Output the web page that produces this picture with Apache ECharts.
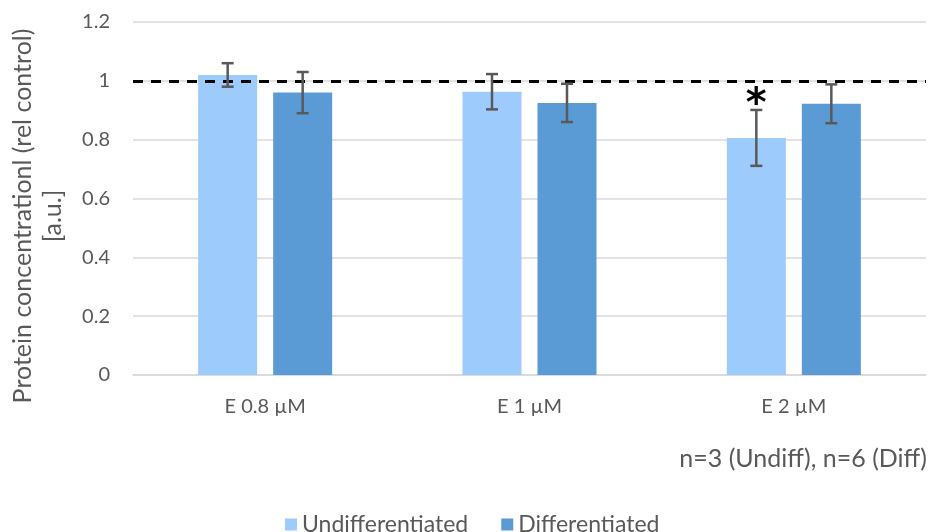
<!DOCTYPE html>
<html>
<head>
<meta charset="utf-8">
<script src="https://cdn.jsdelivr.net/npm/echarts@6/dist/echarts.min.js"></script>
<style>
  html, body { margin: 0; padding: 0; background: #fff; }
  #chart { width: 931px; height: 532px; }
</style>
</head>
<body>
<div id="chart"></div>
<script>
// Treatment groups on the x axis
const categories = ['E 0.8 \u00b5M', 'E 1 \u00b5M', 'E 2 \u00b5M'];
// Mean protein concentration relative to control
const undiffValues = [1.02, 0.963, 0.806];
const diffValues = [0.96, 0.925, 0.922];
// Standard deviations
const undiffErr = [0.04, 0.06, 0.095];
const diffErr = [0.07, 0.065, 0.066];
// Significance marks drawn above the error bars
const undiffSig = ['', '', '*'];
const diffSig = ['', '', ''];
const yTicks = [0, 0.2, 0.4, 0.6, 0.8, 1, 1.2];
const controlLevel = 1;

const FONT = 'Lato, "Open Sans", sans-serif';
const TEXT = '#595959';
const BAR_W = 59;
const BAR_GAP = 16;

function errorSeries(name, values, errs, sig, offset) {
  return {
    name: name + ' error',
    type: 'custom',
    silent: true,
    z: 5,
    data: values.map((v, i) => [i, v, errs[i]]),
    renderItem: function (params, api) {
      const i = api.value(0);
      const v = api.value(1);
      const e = api.value(2);
      const top = api.coord([i, v + e]);
      const bot = api.coord([i, v - e]);
      const x = top[0] + offset;
      const cap = 6;
      const style = { stroke: '#595959', lineWidth: 2.5 };
      const children = [
        { type: 'line', shape: { x1: x, y1: top[1], x2: x, y2: bot[1] }, style },
        { type: 'line', shape: { x1: x - cap, y1: top[1], x2: x + cap, y2: top[1] }, style },
        { type: 'line', shape: { x1: x - cap, y1: bot[1], x2: x + cap, y2: bot[1] }, style }
      ];
      const mark = sig[params.dataIndex];
      if (mark) {
        children.push({
          type: 'text',
          style: {
            text: mark, x: x, y: top[1] - 4,
            textAlign: 'center', textVerticalAlign: 'middle',
            fill: '#000', font: 'bold 40px "DejaVu Sans", sans-serif'
          }
        });
      }
      return { type: 'group', children };
    }
  };
}

const chart = echarts.init(document.getElementById('chart'));
chart.setOption({
  animation: false,
  backgroundColor: '#fff',
  grid: { left: 133, right: 5, top: 22, bottom: 157, containLabel: false, outerBoundsMode: 'none' },
  legend: {
    top: 508,
    left: 280,
    itemWidth: 12,
    itemHeight: 12,
    itemGap: 33,
    icon: 'rect',
    data: ['Undifferentiated', 'Differentiated'],
    textStyle: { color: TEXT, fontSize: 23, fontFamily: FONT }
  },
  xAxis: {
    type: 'category',
    data: categories,
    axisLine: { lineStyle: { color: '#d9d9d9', width: 1.5 } },
    axisTick: { show: false },
    axisLabel: { color: TEXT, fontSize: 20, fontFamily: FONT, margin: 22 }
  },
  yAxis: {
    type: 'value',
    min: 0,
    max: 1.2,
    interval: 0.2,
    axisLine: { show: false },
    axisTick: { show: false },
    splitLine: { lineStyle: { color: '#d9d9d9', width: 1.5 } },
    axisLabel: {
      color: TEXT, fontSize: 20, fontFamily: FONT, margin: 23,
      formatter: v => yTicks.indexOf(+v.toFixed(1)) >= 0 ? String(+v.toFixed(1)) : ''
    }
  },
  series: [
    {
      name: 'Undifferentiated',
      type: 'bar',
      data: undiffValues,
      barWidth: BAR_W,
      barGap: (BAR_GAP / BAR_W * 100) + '%',
      itemStyle: { color: '#9dcbfb' },
      markLine: {
        silent: true,
        symbol: 'none',
        label: { show: false },
        lineStyle: { color: '#000', type: [10, 8], width: 3 },
        data: [{ yAxis: controlLevel }]
      },
      z: 2
    },
    {
      name: 'Differentiated',
      type: 'bar',
      data: diffValues,
      barWidth: BAR_W,
      itemStyle: { color: '#5b9bd5' },
      z: 2
    },
    errorSeries('Undifferentiated', undiffValues, undiffErr, undiffSig, -(BAR_W + BAR_GAP) / 2),
    errorSeries('Differentiated', diffValues, diffErr, diffSig, (BAR_W + BAR_GAP) / 2)
  ],
  graphic: [
    {
      type: 'text',
      x: 38,
      y: 216,
      rotation: Math.PI / 2,
      style: {
        text: 'Protein concentrationl (rel control)\n[a.u.]',
        fill: TEXT,
        font: '25px ' + FONT,
        lineHeight: 30,
        textAlign: 'center',
        textVerticalAlign: 'middle'
      }
    },
    {
      type: 'text',
      x: 927,
      y: 459,
      style: {
        text: 'n=3 (Undiff), n=6 (Diff)',
        fill: TEXT,
        font: '25px ' + FONT,
        textAlign: 'right',
        textVerticalAlign: 'middle'
      }
    }
  ]
});
</script>
</body>
</html>
